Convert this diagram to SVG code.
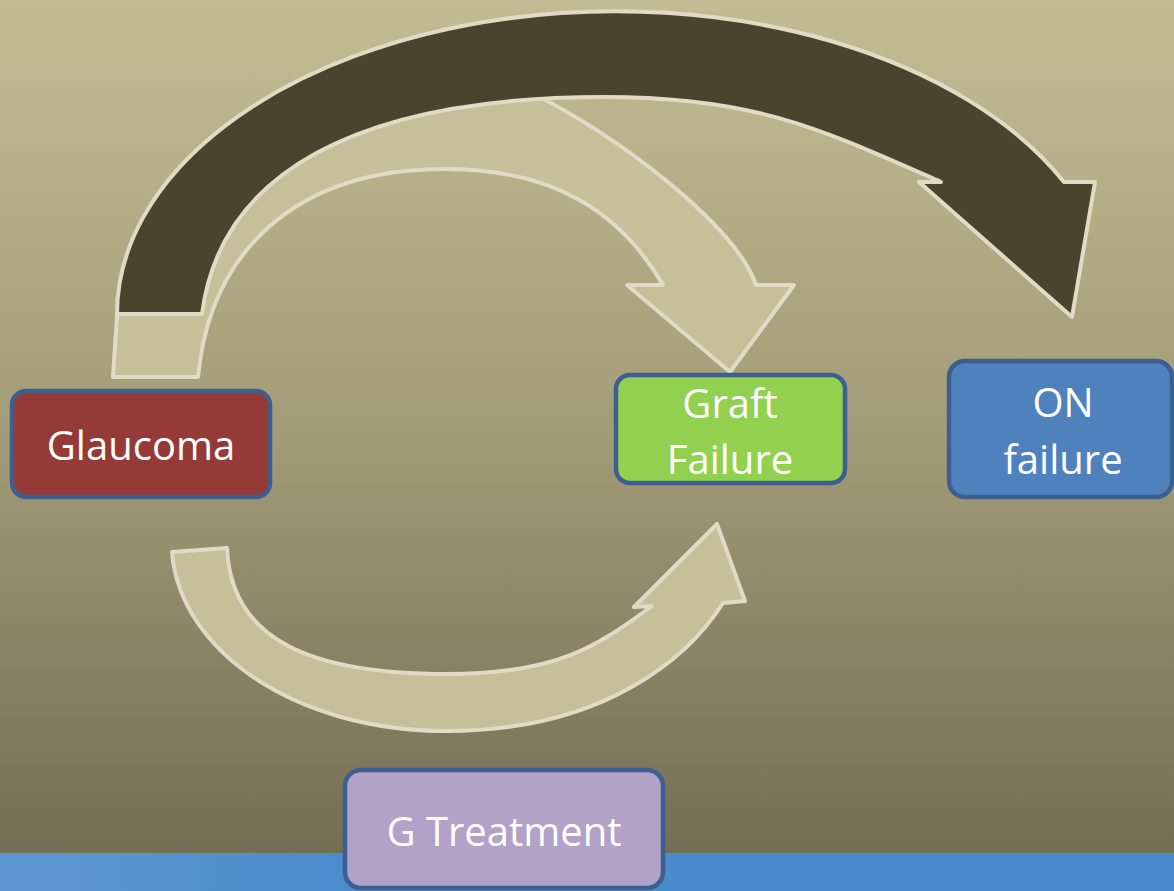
<svg xmlns="http://www.w3.org/2000/svg" width="1174" height="891" viewBox="0 0 1174 891">
<defs>
<linearGradient id="bg" x1="0" y1="0" x2="0" y2="853" gradientUnits="userSpaceOnUse">
<stop offset="0" stop-color="#c3bc93"/>
<stop offset="0.5" stop-color="#a39c78"/>
<stop offset="1" stop-color="#736e54"/>
</linearGradient>
<linearGradient id="strip" x1="0" y1="0" x2="1174" y2="0" gradientUnits="userSpaceOnUse">
<stop offset="0" stop-color="#5e98d0"/>
<stop offset="0.3" stop-color="#4b8ccc"/>
<stop offset="1" stop-color="#4a8bcb"/>
</linearGradient>
<style>
.arrow{stroke:#e0dbc5;stroke-width:4;stroke-linejoin:round}
.light{fill:#c6bf99}
.dark{fill:#4a442e}
.box{stroke:#3c5f8f;stroke-width:4.5}
.lbl{font-family:"Open Sans","Noto Sans",sans-serif;font-size:40px;fill:#ffffff;text-anchor:middle}
</style>
</defs>
<rect x="0" y="0" width="1174" height="853" fill="url(#bg)"/>
<rect x="0" y="853" width="1174" height="38" fill="url(#strip)"/>
<g id="connectors">
<path id="arrow-glaucoma-graft" class="arrow light" d="M113,377 L117,316 C121,220 280,100 530,92 C620,137 735,225 756,285 L794,285 L730,372 L627,285 L663,285 C621,213 555,169 445,169 C295,169 210,252 198,377 Z"/>
<path id="arrow-glaucoma-on" class="arrow dark" d="M117,314 A498.5,303 0 0 1 1064,182 L1095,182 L1072,317 L919,182 L941,182 C821,129 755,97 605,97 C355,97 220,174 202,314 Z"/>
<path id="arrow-treatment-graft" class="arrow light" d="M172,552 C180,651 295,731 447,731 C607,731 690,655 723,603 L745,601 L717,524 L634,607 L652,606 C596,647 557,674 447,674 C307,674 231,638 227,548 Z"/>
</g>
<g id="node-glaucoma">
<rect class="box" x="12" y="391" width="258" height="106" rx="14" fill="#943a37"/>
<text class="lbl" x="141" y="460">Glaucoma</text>
</g>
<g id="node-graft">
<rect class="box" x="616" y="375" width="229" height="108" rx="14" fill="#92d050"/>
<text class="lbl" x="730" y="418">Graft</text>
<text class="lbl" x="730" y="474">Failure</text>
</g>
<g id="node-on">
<rect class="box" x="949" y="361" width="223" height="136" rx="16" fill="#4f81bd"/>
<text class="lbl" x="1063" y="417">ON</text>
<text class="lbl" x="1063" y="474">failure</text>
</g>
<g id="node-treatment">
<rect class="box" x="345" y="770" width="318" height="118" rx="16" fill="#b3a2c7"/>
<text class="lbl" x="504" y="846">G Treatment</text>
</g>
</svg>
